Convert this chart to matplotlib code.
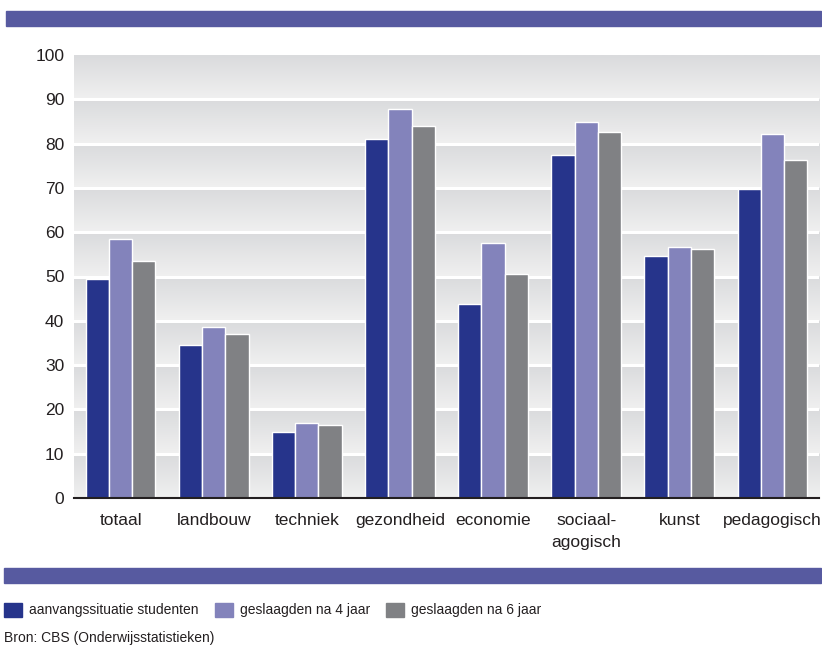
import numpy as np
import matplotlib
matplotlib.use("Agg")
import matplotlib.pyplot as plt
from matplotlib.patches import Rectangle

plt.rcParams['font.family'] = ['Liberation Sans', 'DejaVu Sans']

# data
categories = ["totaal", "landbouw", "techniek", "gezondheid", "economie",
              "sociaal-\nagogisch", "kunst", "pedagogisch"]
series_names = ["aanvangssituatie studenten", "geslaagden na 4 jaar", "geslaagden na 6 jaar"]
aanvang = [49.4, 34.5, 15.0, 81.1, 43.8, 77.4, 54.6, 69.8]
na_4_jaar = [58.5, 38.5, 16.9, 87.7, 57.5, 84.8, 56.6, 82.1]
na_6_jaar = [53.6, 37.1, 16.5, 83.9, 50.5, 82.7, 56.3, 76.3]
y_ticks = [0, 10, 20, 30, 40, 50, 60, 70, 80, 90, 100]

colors = ["#26348b", "#8383bb", "#808184"]
band_color = "#575aa0"
text_color = "#231f20"

W, H = 822, 648
fig = plt.figure(figsize=(W / 100, H / 100), dpi=100)
ax = fig.add_axes([74 / W, 150 / H, 745 / W, 443 / H])

# background: one grey gradient per 10-unit band (dark at top, light at bottom)
steps = 40
top_rgb = np.array([0xda, 0xdb, 0xdd]) / 255
bottom_rgb = np.array([0xf0, 0xf0, 0xf0]) / 255
band = np.linspace(0, 1, steps)[:, None] * (top_rgb - bottom_rgb) + bottom_rgb
grad = np.tile(band[::-1], (10, 1))[:, None, :]
ax.imshow(grad, extent=[-0.5, len(categories) - 0.5, 0, 100], aspect='auto',
          interpolation='bilinear', zorder=0)
for t in y_ticks[1:-1]:
    ax.axhline(t, color="white", lw=2.2, zorder=1)

x = np.arange(len(categories))
w = 0.25
for i, (vals, c) in enumerate(zip([aanvang, na_4_jaar, na_6_jaar], colors)):
    ax.bar(x + (i - 1) * w, vals, width=w, color=c, edgecolor="white",
           linewidth=1.0, zorder=2)

ax.set_xlim(-0.5, len(categories) - 0.5)
ax.set_ylim(0, 100)
ax.set_yticks(y_ticks)
ax.set_xticks(x)
ax.set_xticklabels(categories, fontsize=12.5, color=text_color, linespacing=1.55)
ax.tick_params(axis='y', length=0, pad=7, labelsize=12.5, labelcolor=text_color)
ax.tick_params(axis='x', length=0, pad=11)
for s in ["left", "right", "top"]:
    ax.spines[s].set_visible(False)
ax.spines["bottom"].set_color("#231f20")
ax.spines["bottom"].set_linewidth(1.5)
ax.spines["bottom"].set_zorder(3)

# decorative bands above and below the chart
fig.patches.append(Rectangle((6 / W, (H - 26) / H), 815 / W, 15 / H,
                             transform=fig.transFigure, color=band_color))
fig.patches.append(Rectangle((4 / W, (H - 583) / H), 817 / W, 15 / H,
                             transform=fig.transFigure, color=band_color))

# legend, items placed one after the other
renderer = fig.canvas.get_renderer()
lx = 4
for name, c in zip(series_names, colors):
    fig.patches.append(Rectangle((lx / W, (H - 617) / H), 18 / W, 14 / H,
                                 transform=fig.transFigure, color=c))
    t = fig.text((lx + 25) / W, (H - 610) / H, name, fontsize=10,
                 color=text_color, va='center', ha='left')
    lx = t.get_window_extent(renderer).x1 + 16

fig.text(4 / W, (H - 638) / H, "Bron: CBS (Onderwijsstatistieken)", fontsize=10,
         color=text_color, va='center', ha='left')

fig.savefig("out.png", dpi=100)
